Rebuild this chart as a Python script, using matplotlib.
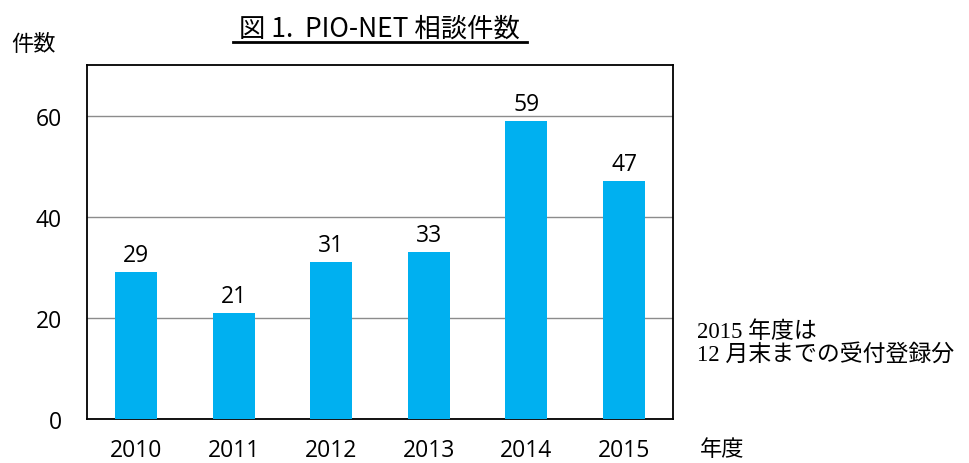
import matplotlib
matplotlib.use("Agg")
import matplotlib.pyplot as plt
from matplotlib.lines import Line2D

plt.rcParams['font.family'] = ['Noto Sans CJK JP', 'DejaVu Sans']

years = ["2010", "2011", "2012", "2013", "2014", "2015"]
counts = [29, 21, 31, 33, 59, 47]
yticks = [0, 20, 40, 60]

fig = plt.figure(figsize=(9.69, 4.64), dpi=100)
ax = fig.add_axes([0.0898, 0.0948, 0.6047, 0.763])

x = range(len(years))
bars = ax.bar(x, counts, width=0.43, color="#00B0F0", zorder=3)
for b, v in zip(bars, counts):
	ax.text(b.get_x() + b.get_width() / 2, v + 1.0, str(v), ha="center", va="bottom",
		fontsize=16.5, family=["Open Sans", "DejaVu Sans"])

ax.set_xlim(-0.5, len(years) - 0.5)
ax.set_ylim(0, 70)
ax.set_yticks(yticks)
ax.set_xticks(list(x))
ax.set_xticklabels(years)
ax.tick_params(length=0, labelsize=16.5)
ax.tick_params(axis="x", pad=14)
ax.tick_params(axis="y", pad=18)
for lab in ax.get_xticklabels() + ax.get_yticklabels():
	lab.set_family(["Open Sans", "DejaVu Sans"])
ax.grid(axis="y", color="#8c8c8c", linewidth=1, zorder=0)
for s in ax.spines.values():
	s.set_linewidth(1.3)
	s.set_color("black")

fig.text(0.392, 0.938, "図 1.  PIO-NET 相談件数", ha="center", va="center", fontsize=19)
fig.add_artist(Line2D([0.240, 0.544], [0.908, 0.908], color="black", linewidth=2))
fig.text(0.012, 0.905, "件数", ha="left", va="center", fontsize=16)
fig.text(0.722, 0.032, "年度", ha="left", va="center", fontsize=16)
fig.text(0.719, 0.259, "2015 年度は\n12 月末までの受付登録分", ha="left", va="center",
	fontsize=16.5, linespacing=1.05, family=["Liberation Serif", "Noto Sans CJK JP"])

fig.savefig("out.png", dpi=100)
